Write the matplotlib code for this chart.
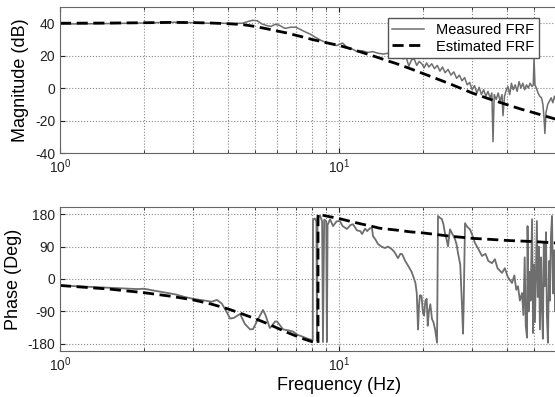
import numpy as np
import matplotlib.pyplot as plt

plt.rcParams["font.family"] = ["Liberation Sans", "DejaVu Sans"]
plt.rcParams["axes.unicode_minus"] = False

# estimated FRF (model)
f_est_mag = [1.0, 1.5, 2.0, 2.5, 3.0, 3.5, 4.0, 4.5, 5.0, 5.5, 6.0, 6.5, 7.0, 7.5, 8.0,
             8.5, 9.0, 10, 11, 12, 13, 14, 15, 16, 18, 20, 22, 25, 30, 35, 40, 45,
             50, 55, 60, 70, 80, 100]
mag_est = [40.0, 40.1, 40.3, 40.5, 40.4, 40.1, 39.7, 39.2, 38.0, 36.6, 35.2, 34.0, 32.6,
           31.3, 30.0, 29.0, 28.0, 26.3, 24.3, 22.2, 20.3, 18.5, 16.7, 15.2, 12.0, 9.0,
           6.3, 2.6, -3.0, -7.0, -10.2, -13.0, -15.2, -17.3, -19.2, -23.0, -26.0, -31.0]

f_est_ph = [1.0, 1.5, 2.0, 2.5, 3.0, 3.5, 4.0, 4.5, 5.0, 5.5, 6.0, 6.5, 7.0, 7.5, 8.0,
            8.41, 8.41, 9.0, 10, 11, 12, 13, 14, 16, 18, 20, 25, 30, 35, 40, 50, 60,
            80, 100]
ph_est = [-18, -28, -38, -48, -58, -70, -83, -97, -110, -123, -136, -148, -158, -167,
          -174, -178, 180, 175, 168, 160, 153, 147, 141, 136, 131, 128, 119, 113, 110,
          107, 104, 100, 96, 93]

# measured FRF
f_meas_mag = [1.0, 1.2, 1.5, 1.8, 2.1, 2.4, 2.7, 3.0, 3.4, 3.8, 4.2, 4.5, 4.7, 4.9, 5.1,
              5.3, 5.5, 5.7, 5.9, 6.1, 6.4, 6.7, 7.0, 7.3, 7.6, 7.9, 8.2, 8.6, 9.0, 9.4,
              9.8, 10.3, 10.7, 11.2, 11.6, 12.1, 12.7, 13.2, 13.8, 14.4, 15.0, 15.5,
              16.0, 16.5, 17.0, 17.4, 17.8, 18.2, 18.6, 19.0, 19.4, 19.8, 20.2, 20.6,
              21.0, 21.5, 22.0, 22.5, 23.0, 23.5, 24.0, 24.6, 25.2, 25.8, 26.4, 27.0,
              27.6, 28.2, 28.8, 29.4, 30.0, 30.6, 31.2, 31.8, 32.4, 33.0, 33.6, 34.2,
              34.8, 35.3, 35.65, 36.0, 36.6, 37.2, 37.8, 38.4, 38.7, 39.2, 39.8, 40.3,
              40.9, 41.5, 42.1, 42.8, 43.5, 44.2, 44.9, 45.6, 46.3, 47.0, 47.7, 48.4,
              49.2, 49.7, 50.0, 50.4, 51.0, 51.7, 52.4, 53.2, 53.8, 54.3, 54.7, 55.2,
              56.0, 56.8, 57.6, 58.4, 59.2, 60.0, 61.0]
mag_meas = [39.5, 39.6, 39.8, 40.0, 40.2, 40.6, 40.6, 40.3, 40.0, 40.0, 39.8, 40.0, 41.0,
            41.8, 41.5, 39.5, 38.6, 38.0, 39.3, 38.8, 36.8, 37.5, 37.6, 36.0, 34.5, 33.2,
            31.5, 29.5, 28.0, 27.0, 26.2, 27.8, 25.0, 24.0, 22.5, 23.0, 22.0, 22.5, 21.5,
            21.0, 21.5, 20.0, 19.5, 20.5, 18.0, 19.0, 13.5, 17.5, 18.0, 14.0, 16.5, 15.0,
            12.5, 15.5, 13.0, 15.0, 12.0, 14.0, 10.5, 13.0, 9.5, 11.5, 8.0, 10.0, 6.0,
            8.0, 4.5, 6.5, 2.0, 3.5, -1.0, 1.5, -3.0, 0.5, -4.0, -1.0, -5.0, -2.0, -6.0,
            -3.0, -33.0, -4.0, -7.0, -3.0, -8.0, -4.0, -17.0, -5.0, -1.0, 1.0, -4.0, 3.0,
            -1.0, 2.0, -2.0, 4.0, 0.0, 3.0, -1.0, 2.0, 0.0, 3.0, 1.0, 2.0, 18.5, 2.0,
            0.0, -3.0, -5.0, -6.0, -10.0, -18.0, -28.0, -15.0, -10.0, -8.0, -6.0, -9.0,
            -5.0, -8.0, -10.0]

f_meas_ph = [1.0, 1.3, 1.6, 1.9, 2.0, 2.2, 2.4, 2.6, 2.8, 3.0, 3.3, 3.5, 3.65, 3.8, 3.96,
             4.07, 4.2, 4.42, 4.6, 4.8, 4.92, 5.1, 5.34, 5.45, 5.65, 5.75, 5.9, 6.0, 6.3,
             6.6, 6.84, 7.1, 7.4, 7.67, 7.9, 8.05, 8.07, 8.2, 8.3, 8.34, 8.38, 8.55, 8.7,
             8.76, 8.85, 9.0, 9.05, 9.1, 9.29, 9.52, 9.8, 10.08, 10.3, 10.67, 11.0, 11.23,
             11.6, 11.92, 12.1, 12.4, 12.62, 12.9, 13.13, 13.24, 13.5, 13.8, 14.2, 14.61,
             15.0, 15.45, 15.8, 16.27, 16.6, 16.84, 17.27, 17.72, 18.2, 18.5, 18.79, 19.0,
             19.2, 19.35, 19.5, 19.76, 20.0, 20.18, 20.4, 20.62, 20.8, 21.0, 21.25, 21.54,
             21.8, 22.09, 22.3, 22.46, 22.64, 23.0, 23.39, 23.7, 23.98, 24.3, 24.59, 24.99,
             25.5, 26.05, 26.4, 26.7, 27.2, 27.6, 27.83, 28.0, 28.29, 28.8, 29.48, 30.1,
             30.72, 31.5, 32.55, 33.5, 34.3, 35.35, 36.2, 37.0, 38.39, 39.3, 40.3, 41.7,
             42.5, 43.2, 43.8, 44.5, 45.29, 45.8, 46.3, 46.7, 47.2, 47.4, 47.8, 48.2, 48.6,
             49.2, 49.6, 50.0, 50.4, 51.2, 51.6, 52.0, 52.5, 53.0, 53.4, 53.8, 54.2, 54.7,
             55.2, 55.6, 56.1, 56.6, 57.0, 57.5, 58.0, 58.5, 59.0, 59.5, 60.0, 61.0, 62.0]
ph_meas = [-18, -22, -25, -28, -27, -33, -38, -43, -50, -55, -60, -63, -58, -68, -92,
           -110, -108, -97, -125, -140, -139, -115, -86, -100, -136, -130, -118, -118,
           -140, -143, -146, -155, -160, -165, -168, -170, 165, 168, 160, -170, 170, 176,
           160, -175, 165, 160, -175, 150, 166, 147, 160, 161, 147, 139, 150, 152, 135,
           133, 125, 140, 133, 141, 141, 119, 110, 97, 90, 86, 90, 83, 75, 58, 70, 69, 50,
           36, 20, 5, -11, -40, -140, -75, -45, -47, -95, -102, -60, -55, -130, -90, -70,
           -111, -120, -139, -160, -177, 175, 170, 166, 150, 127, 110, 91, 138, 125, 111,
           95, 72, 40, -75, -152, -60, 155, 145, 138, 120, 100, 85, 64, 70, 50, 44, 55,
           30, 17, 30, 5, -11, 10, -30, -20, -60, -39, -100, 60, -130, -163, 147, -90, 20,
           -60, 166, -150, 40, -120, 161, -50, 90, -140, 60, -80, -166, 100, -20, 130,
           -100, -177, 50, -60, 120, 175, -40, 80, -90, 40, -120, 90]

fig = plt.figure(figsize=(5.55, 3.97), dpi=100)
# axes run past the right edge of the picture (cropped original)
ax1 = fig.add_axes([60 / 555, 1 - 153 / 397, 558 / 555, 146 / 397])
ax2 = fig.add_axes([60 / 555, 1 - 351 / 397, 558 / 555, 144 / 397])

gray = "#6e6e6e"
for ax in (ax1, ax2):
    ax.set_xscale("log")
    ax.set_xlim(1, 100)
    ax.set_xticks([1, 10])
    ax.grid(True, which="major", axis="both", linestyle=":", color="#888888", lw=0.8)
    ax.grid(True, which="minor", axis="x", linestyle=":", color="#888888", lw=0.8)
    ax.tick_params(which="both", direction="in", labelsize=10, top=True, right=True,
                   colors="#222222")
    ax.tick_params(which="minor", labelbottom=False)
    for s in ax.spines.values():
        s.set_color("#666666")

l1, = ax1.plot(f_meas_mag, mag_meas, color=gray, lw=1.1, label="Measured FRF")
l2, = ax1.plot(f_est_mag, mag_est, color="black", lw=2.0, ls=(0, (4, 2)),
               label="Estimated FRF")
ax1.set_ylim(-40, 50)
ax1.set_yticks([-40, -20, 0, 20, 40])
ax1.set_ylabel("Magnitude (dB)", fontsize=13)

ax2.plot(f_meas_ph, ph_meas, color=gray, lw=1.3)
ax2.plot(f_est_ph, ph_est, color="black", lw=2.0, ls=(0, (4, 2)))
ax2.set_ylim(-200, 200)
ax2.set_yticks([-180, -90, 0, 90, 180])
ax2.set_ylabel("Phase (Deg)", fontsize=13)
ax2.set_xlabel("Frequency (Hz)", fontsize=13, labelpad=2)

fig.legend(handles=[l1, l2], loc="upper right", bbox_to_anchor=(546 / 555, 1 - 11 / 397),
           fontsize=10.5, frameon=True, fancybox=False, edgecolor="#555555",
           framealpha=1, handlelength=2.2, borderpad=0.3, labelspacing=0.2)

fig.savefig("out.png", dpi=100)
